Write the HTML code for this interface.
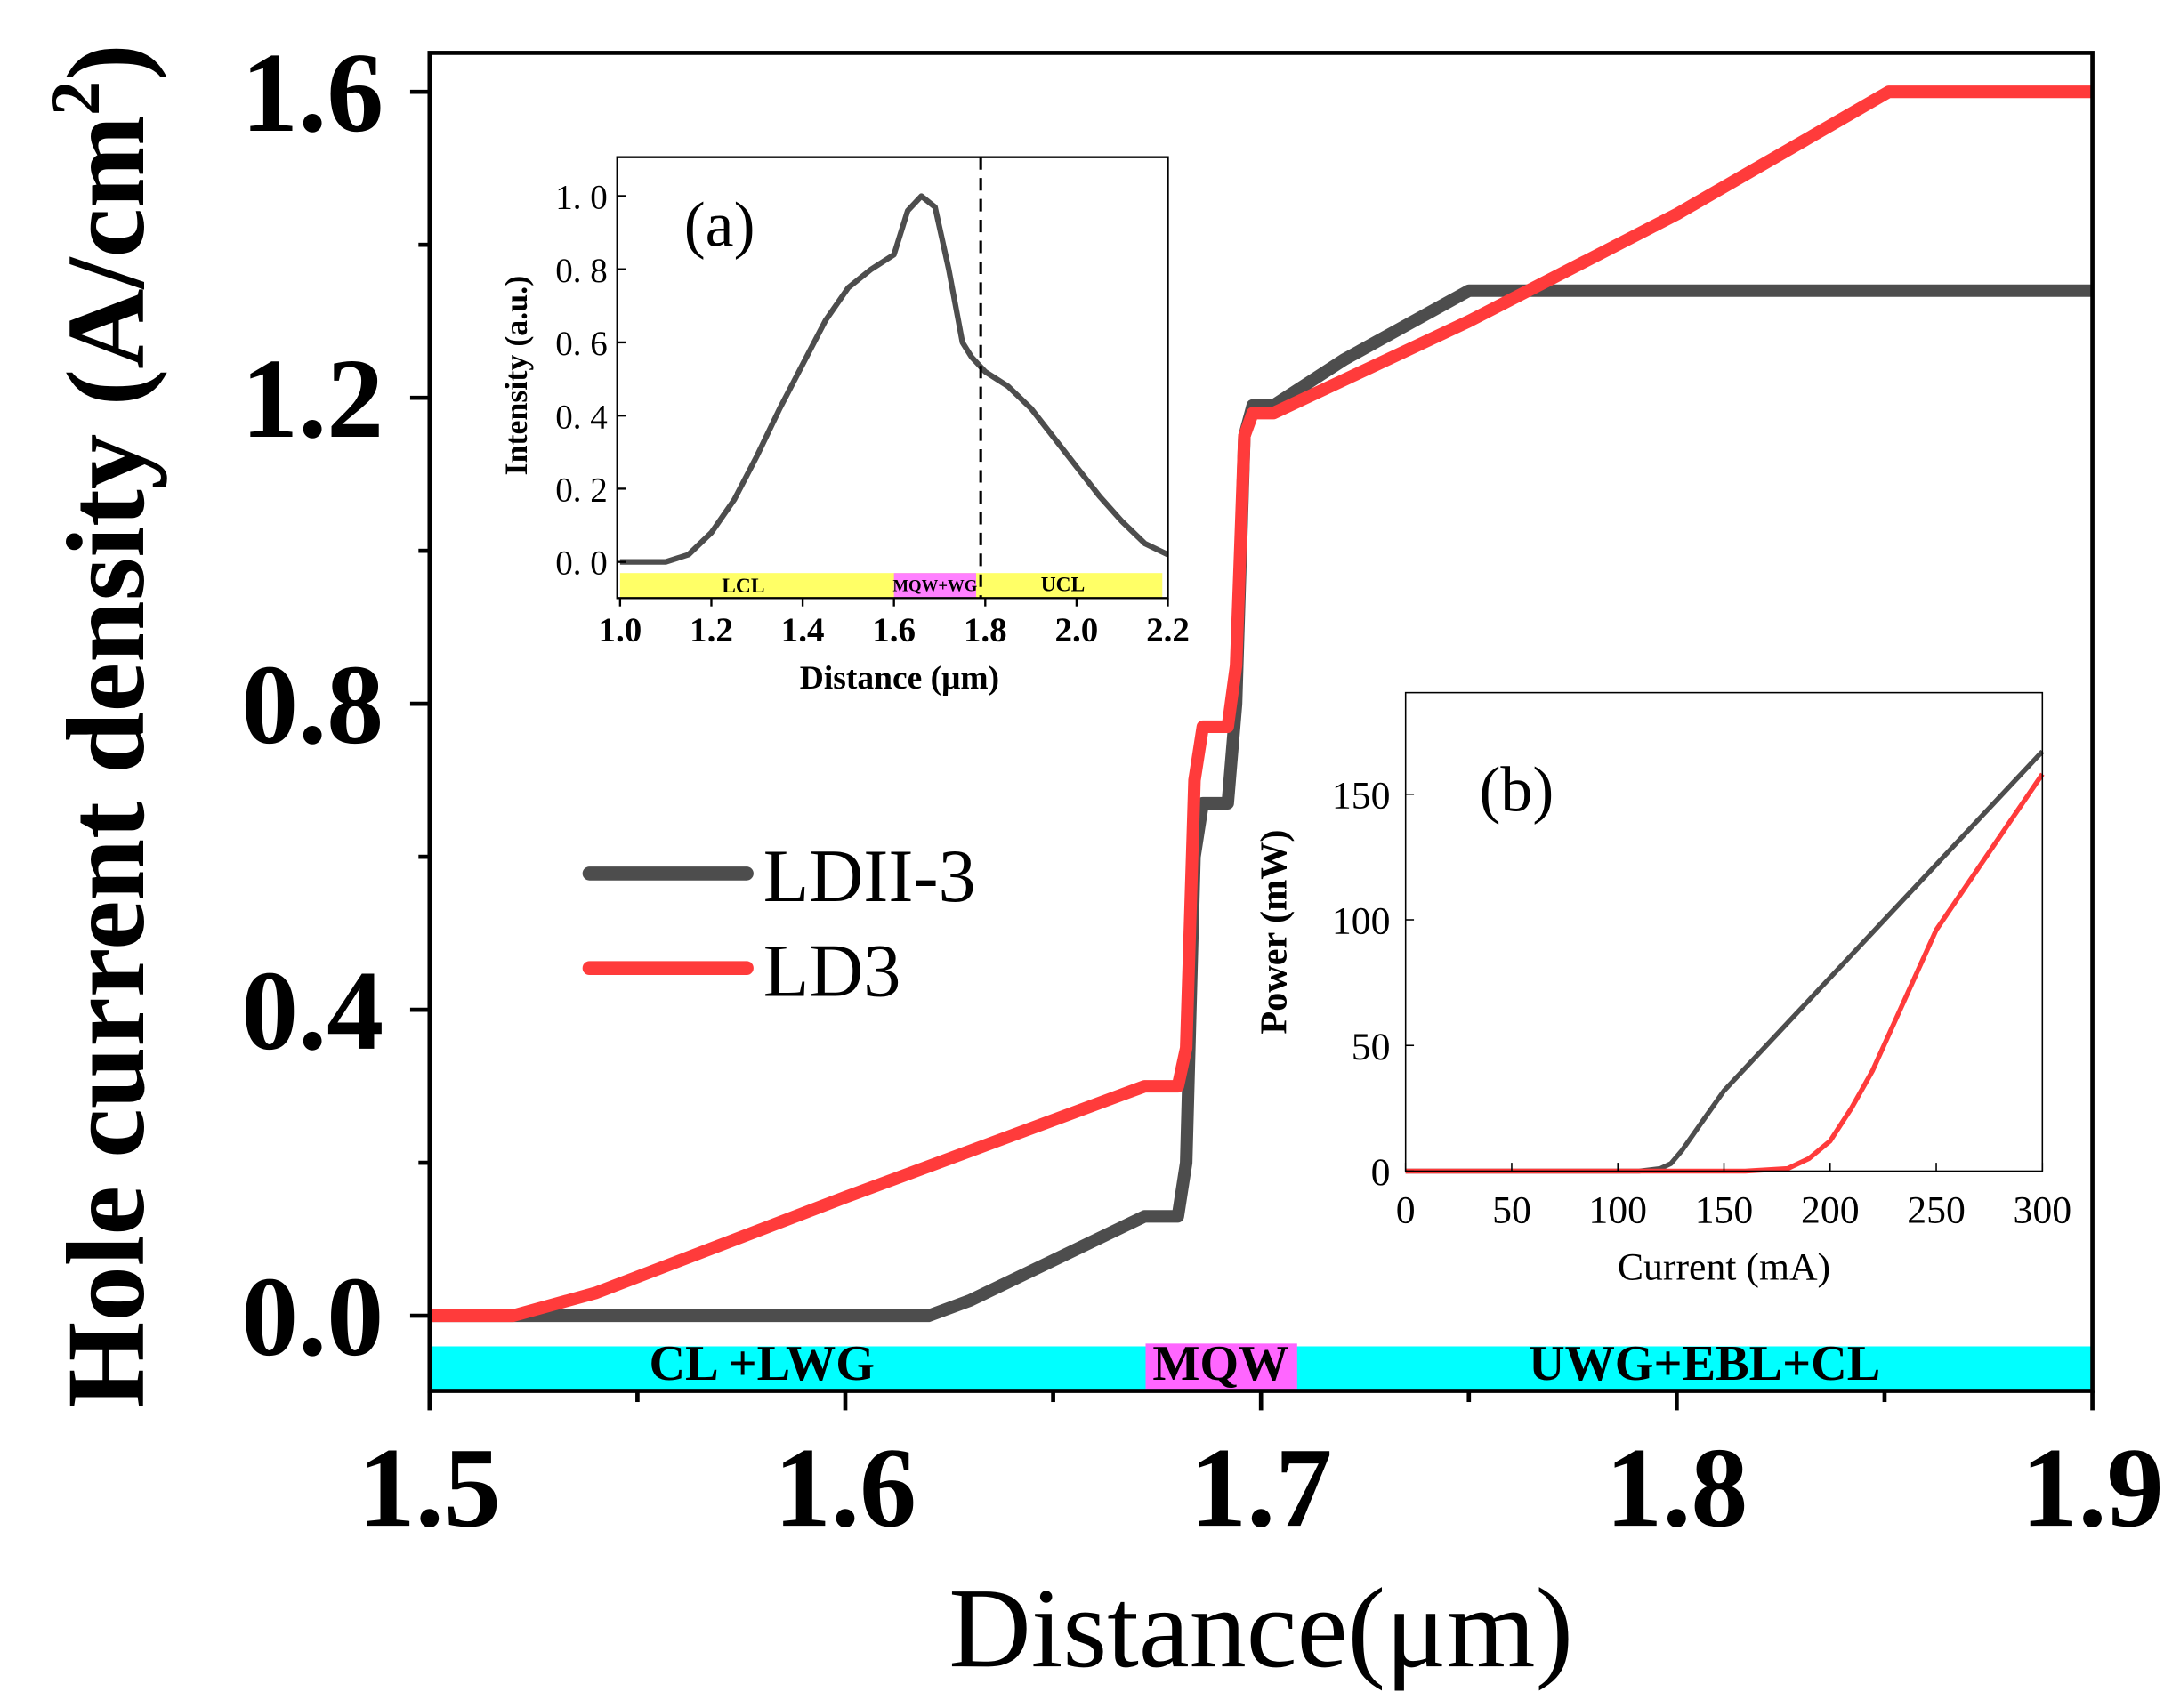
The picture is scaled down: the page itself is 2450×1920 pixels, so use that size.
<!DOCTYPE html>
<html><head><meta charset="utf-8"><style>
html,body{margin:0;padding:0;background:#fff;}
svg{display:block;}
text{font-family:"Liberation Serif",serif;}
</style></head><body>
<svg id="chart" width="2450" height="1920" viewBox="0 0 1568 1228" preserveAspectRatio="none" xmlns="http://www.w3.org/2000/svg"></svg>
<script>
// Main chart data
const mainX_LDII3 = [1.5,1.62,1.63,1.672,1.68,1.682,1.684,1.686,1.692,1.694,1.696,1.698,1.703,1.72,1.74,1.75,1.9];
const mainY_LDII3 = [0,0,0.02,0.13,0.13,0.2,0.6,0.67,0.67,0.8,1.15,1.19,1.19,1.25,1.31,1.34,1.34];
const mainX_LD3 = [1.5,1.52,1.54,1.6,1.672,1.68,1.682,1.684,1.686,1.692,1.694,1.696,1.698,1.703,1.75,1.8,1.851,1.9];
const mainY_LD3 = [0,0,0.03,0.155,0.3,0.3,0.35,0.7,0.77,0.77,0.85,1.15,1.18,1.18,1.3,1.44,1.6,1.6];
const mainXTicks = [1.5,1.6,1.7,1.8,1.9];
const mainXTickLabels = ["1.5","1.6","1.7","1.8","1.9"];
const mainYTicks = [0,0.4,0.8,1.2,1.6];
const mainYTickLabels = ["0.0","0.4","0.8","1.2","1.6"];
// Inset (a) data
const insetAX = [1.0,1.1,1.15,1.2,1.25,1.3,1.35,1.4,1.45,1.5,1.55,1.6,1.63,1.66,1.69,1.72,1.75,1.77,1.8,1.85,1.9,1.95,2.0,2.05,2.1,2.15,2.2];
const insetAY = [0,0,0.02,0.08,0.17,0.29,0.42,0.54,0.66,0.75,0.8,0.84,0.96,1.0,0.97,0.8,0.6,0.56,0.52,0.48,0.42,0.34,0.26,0.18,0.11,0.05,0.02];
const insetAXTicks = [1.0,1.2,1.4,1.6,1.8,2.0,2.2];
const insetAXLabels = ["1.0","1.2","1.4","1.6","1.8","2.0","2.2"];
const insetAYTicks = [0,0.2,0.4,0.6,0.8,1.0];
const insetAYLabels = ["0. 0","0. 2","0. 4","0. 6","0. 8","1. 0"];
// Inset (b) data
const insetBX_LDII3 = [0,110,120,125,130,140,150,200,250,300];
const insetBY_LDII3 = [0,0,1,3,8,20,32,77,122,167];
const insetBX_LD3 = [0,160,180,190,200,210,220,250,300];
const insetBY_LD3 = [0,0,1,5,12,25,40,96,158];
const insetBXTicks = [0,50,100,150,200,250,300];
const insetBXLabels = ["0","50","100","150","200","250","300"];
const insetBYTicks = [0,50,100,150];
const insetBYLabels = ["0","50","100","150"];

const NS="http://www.w3.org/2000/svg";
const svg=document.getElementById('chart');
function mk(tag,attrs,parent,txt){const e=document.createElementNS(NS,tag);for(const k in attrs)e.setAttribute(k,attrs[k]);if(txt!==undefined)e.textContent=txt;(parent||svg).appendChild(e);return e;}
function lin(d0,d1,r0,r1){return v=>r0+(v-d0)/(d1-d0)*(r1-r0);}
function pathD(xs,ys,fx,fy){return xs.map((x,i)=>(i?'L':'M')+fx(x).toFixed(2)+' '+fy(ys[i]).toFixed(2)).join(' ');}

// ---- Main
const mx=lin(1.5,1.9,309,1505), my=lin(0,1.6,946,66);
let e;
e=mk('rect',{x:309,y:968,width:1196,height:32,fill:'#00ffff'});

e=mk('rect',{x:824,y:966,width:109,height:34,fill:'#ff66ff'});

e=mk('text',{x:548,y:992,'font-size':36,'font-weight':'bold','text-anchor':'middle'},svg,'CL +LWG');

e=mk('text',{x:878,y:992,'font-size':36,'font-weight':'bold','text-anchor':'middle'},svg,'MQW');

e=mk('text',{x:1226,y:992,'font-size':36,'font-weight':'bold','text-anchor':'middle'},svg,'UWG+EBL+CL');


e=mk('path',{d:pathD(mainX_LDII3,mainY_LDII3,mx,my),fill:'none',stroke:'#4d4d4d','stroke-width':9,'stroke-linejoin':'round'});

e=mk('path',{d:pathD(mainX_LD3,mainY_LD3,mx,my),fill:'none',stroke:'#ff3b3b','stroke-width':9,'stroke-linejoin':'round'});


e=mk('rect',{x:309,y:38,width:1196,height:962,fill:'none',stroke:'#000','stroke-width':3});

mainXTicks.forEach((t,i)=>{
  e=mk('line',{x1:mx(t),x2:mx(t),y1:1000,y2:1014,stroke:'#000','stroke-width':3});
  
  if(i<mainXTicks.length-1){e=mk('line',{x1:mx(t+0.05),x2:mx(t+0.05),y1:1000,y2:1008,stroke:'#000','stroke-width':3});
  }
  e=mk('text',{x:mx(t),y:1097,'font-size':82,'font-weight':'bold','text-anchor':'middle'},svg,mainXTickLabels[i]);
  
});
mainYTicks.forEach((t,i)=>{
  e=mk('line',{x1:295,x2:309,y1:my(t),y2:my(t),stroke:'#000','stroke-width':3});
  
  if(i<mainYTicks.length-1){e=mk('line',{x1:301,x2:309,y1:my(t+0.2),y2:my(t+0.2),stroke:'#000','stroke-width':3});
  }
  e=mk('text',{x:276,y:my(t)+28,'font-size':82,'font-weight':'bold','text-anchor':'end'},svg,mainYTickLabels[i]);
  
});
e=mk('text',{x:907,y:1198,'font-size':82,'text-anchor':'middle'},svg,'Distance(μm)');

e=mk('text',{x:0,y:0,'font-size':80,'font-weight':'bold','text-anchor':'middle',transform:'translate(103,522) rotate(-90)'},svg);

e.innerHTML='Hole current density (A/cm<tspan font-size="50" dy="-32">2</tspan><tspan dy="32">)</tspan>';

// legend
e=mk('line',{x1:424,x2:537,y1:628,y2:628,stroke:'#4d4d4d','stroke-width':10,'stroke-linecap':'round'});

e=mk('text',{x:549,y:648,'font-size':54},svg,'LDII-3');

e=mk('line',{x1:424,x2:537,y1:696,y2:696,stroke:'#ff3b3b','stroke-width':10,'stroke-linecap':'round'});

e=mk('text',{x:549,y:716,'font-size':54},svg,'LD3');


// ---- Inset (a)
const ax=lin(1.0,2.2,446,840), ay=lin(0,1,404,141);
e=mk('rect',{x:446,y:412,width:390,height:18,fill:'#ffff66'});

e=mk('rect',{x:ax(1.6),y:412,width:ax(1.78)-ax(1.6),height:18,fill:'#ff80ff'});

e=mk('text',{x:ax(1.27),y:426,'font-size':15,'font-weight':'bold','text-anchor':'middle'},svg,'LCL');

e=mk('text',{x:ax(1.69),y:425,'font-size':12,'font-weight':'bold','text-anchor':'middle'},svg,'MQW+WG');

e=mk('text',{x:ax(1.97),y:425,'font-size':15,'font-weight':'bold','text-anchor':'middle'},svg,'UCL');

e=mk('path',{d:pathD(insetAX,insetAY,ax,ay),fill:'none',stroke:'#4d4d4d','stroke-width':4,'stroke-linejoin':'round'});

e=mk('line',{x1:ax(1.79),x2:ax(1.79),y1:113,y2:430,stroke:'#000','stroke-width':2,'stroke-dasharray':'9,6'});

e=mk('rect',{x:444,y:113,width:396,height:317,fill:'none',stroke:'#000','stroke-width':1.5});

insetAXTicks.forEach((t,i)=>{
  e=mk('line',{x1:ax(t),x2:ax(t),y1:430,y2:436,stroke:'#000','stroke-width':1.5});
  
  e=mk('text',{x:ax(t),y:461,'font-size':25,'font-weight':'bold','text-anchor':'middle'},svg,insetAXLabels[i]);
  
});
insetAYTicks.forEach((t,i)=>{
  e=mk('line',{x1:444,x2:450,y1:ay(t),y2:ay(t),stroke:'#000','stroke-width':1.5});
  
  e=mk('text',{x:437,y:ay(t)+9,'font-size':25,'text-anchor':'end'},svg,insetAYLabels[i]);
  
});
e=mk('text',{x:647,y:495,'font-size':24,'font-weight':'bold','text-anchor':'middle'},svg,'Distance (μm)');

e=mk('text',{x:0,y:0,'font-size':23,'font-weight':'bold','text-anchor':'middle',transform:'translate(379,270) rotate(-90)'},svg,'Intensity (a.u.)');

e=mk('text',{x:492,y:177,'font-size':46},svg,'(a)');


// ---- Inset (b)
const bx=lin(0,300,1011,1469), by=lin(0,150,842,571);
e=mk('path',{d:pathD(insetBX_LDII3,insetBY_LDII3,bx,by),fill:'none',stroke:'#4d4d4d','stroke-width':3.5,'stroke-linejoin':'round'});

e=mk('path',{d:pathD(insetBX_LD3,insetBY_LD3,bx,by),fill:'none',stroke:'#ff3b3b','stroke-width':3.5,'stroke-linejoin':'round'});

e=mk('rect',{x:1011,y:498,width:458,height:344,fill:'none',stroke:'#000','stroke-width':1});

insetBXTicks.forEach((t,i)=>{
  e=mk('line',{x1:bx(t),x2:bx(t),y1:842,y2:836,stroke:'#000','stroke-width':1});
  
  e=mk('text',{x:bx(t),y:879,'font-size':28,'text-anchor':'middle'},svg,insetBXLabels[i]);
  
});
insetBYTicks.forEach((t,i)=>{
  e=mk('line',{x1:1011,x2:1017,y1:by(t),y2:by(t),stroke:'#000','stroke-width':1});
  
  e=mk('text',{x:1000,y:by(t)+10,'font-size':28,'text-anchor':'end'},svg,insetBYLabels[i]);
  
});
e=mk('text',{x:1240,y:920,'font-size':28,'text-anchor':'middle'},svg,'Current (mA)');

e=mk('text',{x:0,y:0,'font-size':27,'font-weight':'bold','text-anchor':'middle',transform:'translate(925,670) rotate(-90)'},svg,'Power (mW)');

e=mk('text',{x:1064,y:583,'font-size':46},svg,'(b)');

</script>
</body></html>
